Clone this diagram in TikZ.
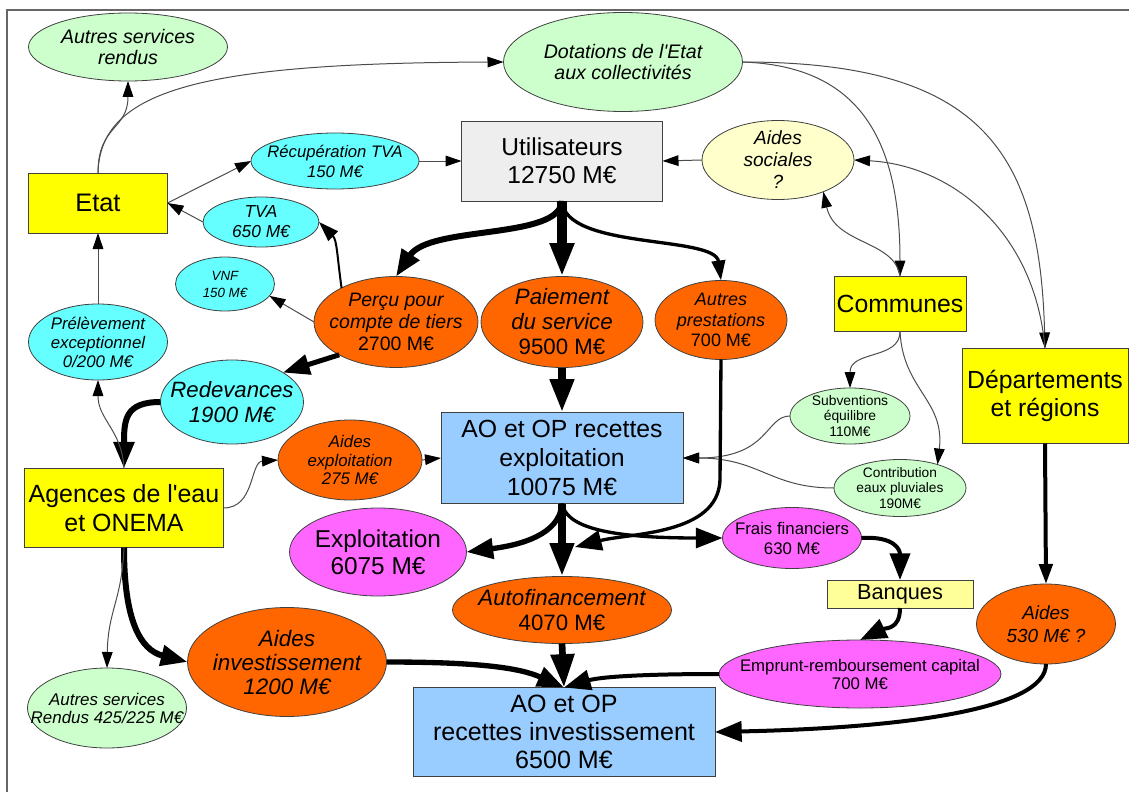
\documentclass[tikz,border=0pt]{standalone}
\usepackage{fontspec}
\setmainfont{Liberation Sans}[Ligatures=TeXOff]
\usetikzlibrary{shapes.geometric,arrows.meta}
\definecolor{cgreen}{HTML}{CCFFCC}
\definecolor{ccyan}{HTML}{66FFFF}
\definecolor{corange}{HTML}{FF6600}
\definecolor{cmag}{HTML}{FF66FF}
\definecolor{cyel}{HTML}{FFFF00}
\definecolor{cpale}{HTML}{FFFFCC}
\definecolor{cbank}{HTML}{FFFF99}
\definecolor{cblue}{HTML}{99CCFF}
\definecolor{cgray}{HTML}{EEEEEE}
\newcommand\fsz[2]{\fontsize{#1pt}{#2pt}\selectfont}
\tikzset{
  sz/.style 2 args={minimum width=#1*0.75pt, minimum height=#2*0.75pt},
  ell/.style={ellipse, draw=black!75, line width=0.6pt, inner sep=0pt, outer sep=0pt},
  box/.style={rectangle, draw=black!75, line width=0.6pt, inner sep=0pt, outer sep=0pt, align=center},
  lt/.style={align=center, inner sep=0pt},
  fthin/.style={draw=black!70, line width=0.75pt, -{Triangle[length=12pt,width=8pt,color=black]}},
  fmed/.style={draw=black, line width=#1, -{Triangle[length=15pt,width=10pt]}},
  fthick/.style={draw=black, line width=#1, -{Triangle[length=20pt,width=15pt]}},
  fbig/.style={draw=black, line width=#1, -{Triangle[length=25pt,width=17pt]}},
}
\begin{document}
\begin{tikzpicture}[x=0.75pt,y=-0.75pt]
\useasboundingbox (0,0) rectangle (1129,792);
\draw[black!60, line width=1.2pt] (7,792) -- (7,10) -- (1129,10);

% nodes
\node[ell, fill=cgreen, sz={199}{68}, label={[lt, font=\fsz{14.7}{16}\itshape]center:Autres services\\rendus}] (asr) at (128,47) {};
\node[ell, fill=cgreen, sz={239}{99}, label={[lt, font=\fsz{14.7}{16.3}\itshape]center:Dotations de l'Etat\\aux collectivités}] (dot) at (623,62) {};
\node[box, fill=cyel, sz={139}{60}, font=\fsz{19}{21}] (etat) at (98,203) {Etat};
\node[ell, fill=ccyan, sz={168}{56}, label={[lt, font=\fsz{12.5}{15}\itshape]center:Récupération TVA\\150 M€}] (rtva) at (335,161) {};
\node[ell, fill=ccyan, sz={116}{50}, label={[lt, font=\fsz{13}{15}\itshape]center:TVA\\650 M€}] (tva) at (261,222) {};
\node[box, fill=cgray, sz={201}{80}, font=\fsz{18.4}{21}] (util) at (562,161) {Utilisateurs\\12750 M€};
\node[ell, fill=cpale, sz={152}{79}, label={[lt, font=\fsz{14.3}{16.5}\itshape]center:Aides\\sociales\\?}] (asoc) at (778,160) {};
\node[ell, fill=ccyan, sz={99}{54}, label={[lt, font=\fsz{10}{12.75}\itshape]center:VNF\\150 M€}] (vnf) at (225,284) {};
\node[ell, fill=corange, sz={164}{91}, label={[lt, font=\fsz{14.6}{16.5}\itshape]center:Perçu pour\\compte de tiers\\{\upshape 2700 M€}}] (pc) at (396,322) {};
\node[ell, fill=corange, sz={162}{91}, label={[lt, font=\fsz{16.7}{18.75}\itshape]center:Paiement\\du service\\{\upshape 9500 M€}}] (pai) at (562,322) {};
\node[ell, fill=corange, sz={132}{79}, label={[lt, font=\fsz{13.5}{15.5}\itshape]center:Autres\\prestations\\{\upshape 700 M€}}] (ap) at (721,320) {};
\node[box, fill=cyel, sz={132}{55}, font=\fsz{18.6}{21}] (comm) at (900,304) {Communes};
\node[box, fill=cyel, sz={166}{95}, font=\fsz{18.6}{21}] (dep) at (1045,396) {Départements\\et régions};
\node[ell, fill=ccyan, sz={139}{76}, label={[lt, font=\fsz{12.6}{14.3}\itshape]center:Prélèvement\\exceptionnel\\0/200 M€}] (pre) at (98,342) {};
\node[ell, fill=ccyan, sz={143}{84}, label={[lt, font=\fsz{16.6}{18.75}\itshape]center:Redevances\\1900 M€}] (red) at (232,402) {};
\node[ell, fill=corange, sz={144}{80}, label={[lt, font=\fsz{12.6}{14}\itshape]center:Aides\\exploitation\\275 M€}] (ae) at (350,460) {};
\node[box, fill=cblue, sz={242}{91}, font=\fsz{18.6}{21.75}] (aoe) at (562,458) {AO et OP recettes\\exploitation\\10075 M€};
\node[ell, fill=cgreen, sz={120}{56}, label={[lt, font=\fsz{10.4}{11.7}]center:Subventions\\équilibre\\110M€}] (sub) at (850,416) {};
\node[ell, fill=cgreen, sz={132}{57}, label={[lt, font=\fsz{10.3}{11.7}]center:Contribution\\eaux pluviales\\190M€}] (cont) at (900,488) {};
\node[box, fill=cyel, sz={199}{79}, font=\fsz{18.7}{21.75}] (ag) at (124,508) {Agences de l'eau\\et ONEMA};
\node[ell, fill=cmag, sz={177}{88}, label={[lt, font=\fsz{18.3}{20}]center:Exploitation\\6075 M€}] (exp) at (378,552) {};
\node[ell, fill=cmag, sz={139}{61}, label={[lt, font=\fsz{12.6}{15}]center:Frais financiers\\630 M€}] (ff) at (792,538) {};
\node[box, fill=cbank, sz={146}{28}, font=\fsz{16.3}{18}] (ban) at (900,594) {Banques};
\node[ell, fill=corange, sz={219}{67}, label={[lt, font=\fsz{16.7}{18.75}]center:{\itshape Autofinancement}\\4070 M€}] (auto) at (562,610) {};
\node[ell, fill=corange, sz={199}{109}, label={[lt, font=\fsz{16.8}{18}\itshape]center:Aides\\investissement\\1200 M€}] (ai) at (287,662) {};
\node[ell, fill=cgreen, sz={159}{80}, label={[lt, font=\fsz{12.7}{13.5}\itshape]center:Autres services\\Rendus 425/225 M€}] (asr2) at (107,708) {};
\node[ell, fill=cmag, sz={282}{68}, label={[lt, font=\fsz{12.6}{13.5}]center:Emprunt-remboursement capital\\700 M€}] (emp) at (860,674) {};
\node[ell, fill=corange, sz={139}{80}, label={[lt, font=\fsz{14.2}{17}\itshape]center:Aides\\530 M€ ?}] (a530) at (1046,624) {};
\node[box, fill=cblue, sz={302}{89}, font=\fsz{18.8}{21}] (aoi) at (564,732) {AO et OP\\recettes investissement\\6500 M€};

% connectors
\draw[fthin] (etat.north) .. controls (98,125) and (128,130) .. (asr.south);
\draw[fthin] (etat.north) .. controls (100,90) and (200,63) .. (dot.west);
\draw[fthin] (etat.east) -- (rtva.west);
\draw[fthin] (tva.west) -- (etat.east);
\draw[fthin] (rtva.east) -- (util.west);
\draw[fthin] (asoc.west) -- (util.east);
\draw[fthin] (dot.east) .. controls (860,66) and (900,140) .. (comm.north);
\draw[fthin] (dot.east) .. controls (980,62) and (1040,150) .. (dep.north);
\draw[fthin] (dep.north) .. controls (1035,230) and (950,165) .. (asoc.east);
\draw[fthin] (comm.north) .. controls (895,240) and (835,245) .. (asoc.-35);
\draw[fthick=4.5pt] (util.south) .. controls (560,240) and (430,225) .. (pc.north);
\draw[fbig=7pt] (util.south) -- (pai.north);
\draw[fmed=2.5pt] (util.south) .. controls (565,250) and (715,235) .. (ap.north);
\draw[fmed=1.5pt] (pc.148) .. controls (337,255) and (337,240) .. (tva.east);
\draw[fthin] (pc.west) -- (vnf.-15);
\draw[fthick=3.75pt] (pc.210) -- (red.30);
\draw[fthick=4.5pt] (red.west) .. controls (125,402) and (124,420) .. (ag.north);
\draw[fthin] (ag.north) .. controls (122,430) and (98,420) .. (pre.south);
\draw[fthin] (pre.north) -- (etat.south);
\draw[fthin] (ag.east) .. controls (255,508) and (250,462) .. (ae.west);
\draw[fthin] (ae.east) -- (aoe.west);
\draw[fbig=6pt] (pai.south) -- (aoe.north);
\draw[fthin] (sub.west) .. controls (765,416) and (770,458) .. (aoe.east);
\draw[fthin] (cont.west) .. controls (770,488) and (760,458) .. (aoe.east);
\draw[fthin] (comm.south) .. controls (900,360) and (850,350) .. (sub.north);
\draw[fthin] (comm.south) .. controls (903,390) and (945,400) .. (cont.32);
\draw[fmed=3pt] (dep.south) -- (a530.north);
\draw[fthick=3pt] (a530.south) .. controls (1046,710) and (900,728) .. (aoi.east);
\draw[fthick=4pt] (aoe.south) .. controls (560,535) and (520,545) .. (exp.east);
\draw[fbig=6pt] (aoe.south) -- (auto.north);
\draw[fthick=2.5pt] (aoe.south) .. controls (566,525) and (600,538) .. (ff.west);
\coordinate (j) at (575,547);
\draw[fthick=2.5pt] (ap.south) -- (720,480) .. controls (718,535) and (630,533) .. (j);
\draw[fthick=3pt] (ff.east) .. controls (895,536) and (900,550) .. (ban.north);
\draw[fthick=3pt] (ban.south) .. controls (900,630) and (885,628) .. (emp.north);
\draw[fbig=5pt] (auto.south) -- (aoi.north);
\draw[fthick=4pt] (ai.east) .. controls (480,662) and (520,668) .. (aoi.north);
\draw[fthick=3pt] (emp.west) .. controls (640,674) and (600,677) .. (aoi.north);
\draw[fthick=4.5pt] (ag.south) .. controls (124,620) and (140,650) .. (ai.west);
\draw[fthin] (ag.south) .. controls (122,600) and (108,610) .. (asr2.north);
\end{tikzpicture}
\end{document}
